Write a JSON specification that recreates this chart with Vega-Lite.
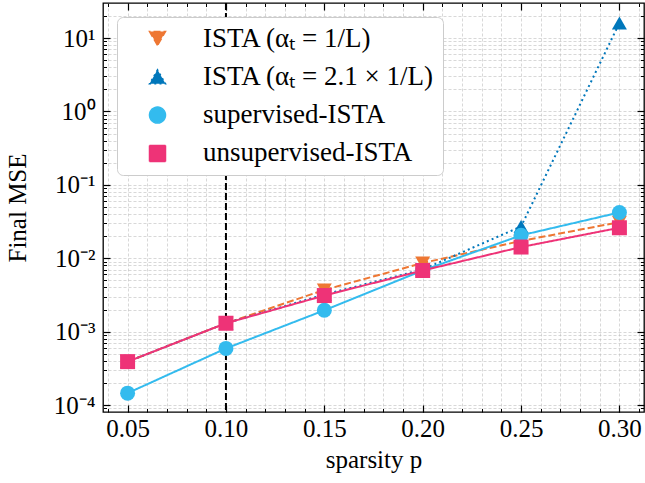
{
  "$schema": "https://vega.github.io/schema/vega-lite/v6.json",
  "width": 541,
  "height": 409,
  "autosize": {"type": "none"},
  "padding": {"left": 103, "top": 3, "right": 1, "bottom": 71},
  "background": "white",
  "config": {
    "view": {"stroke": "black", "strokeWidth": 1.3},
    "font": "Liberation Serif",
    "axis": {"labelFont": "Liberation Serif", "titleFont": "Liberation Serif", "labelColor": "black", "titleColor": "black", "tickColor": "black", "domain": false, "titleFontWeight": "normal"}
  },
  "data": {
    "values": [
      {"p": 0.05, "mse": 0.00039, "s": "a"},
      {"p": 0.10, "mse": 0.0013, "s": "a"},
      {"p": 0.15, "mse": 0.0037, "s": "a"},
      {"p": 0.20, "mse": 0.0086, "s": "a"},
      {"p": 0.25, "mse": 0.0172, "s": "a"},
      {"p": 0.30, "mse": 0.031, "s": "a"},
      {"p": 0.05, "mse": 0.00039, "s": "b"},
      {"p": 0.10, "mse": 0.0013, "s": "b"},
      {"p": 0.15, "mse": 0.0032, "s": "b"},
      {"p": 0.20, "mse": 0.0070, "s": "b"},
      {"p": 0.25, "mse": 0.027, "s": "b"},
      {"p": 0.30, "mse": 16.0, "s": "b"},
      {"p": 0.05, "mse": 0.000145, "s": "c"},
      {"p": 0.10, "mse": 0.00059, "s": "c"},
      {"p": 0.15, "mse": 0.00195, "s": "c"},
      {"p": 0.20, "mse": 0.0068, "s": "c"},
      {"p": 0.25, "mse": 0.0205, "s": "c"},
      {"p": 0.30, "mse": 0.042, "s": "c"},
      {"p": 0.05, "mse": 0.00039, "s": "d"},
      {"p": 0.10, "mse": 0.0013, "s": "d"},
      {"p": 0.15, "mse": 0.0031, "s": "d"},
      {"p": 0.20, "mse": 0.0068, "s": "d"},
      {"p": 0.25, "mse": 0.0142, "s": "d"},
      {"p": 0.30, "mse": 0.026, "s": "d"}
    ]
  },
  "layer": [
    {
      "mark": {"type": "point", "opacity": 0},
      "encoding": {
        "x": {"field": "p", "type": "quantitative", "scale": {"domain": [0.0375, 0.3125], "nice": false, "zero": false},
          "axis": {"orient": "bottom", "values": [0.04,0.05,0.06,0.07,0.08,0.09,0.10,0.11,0.12,0.13,0.14,0.15,0.16,0.17,0.18,0.19,0.20,0.21,0.22,0.23,0.24,0.25,0.26,0.27,0.28,0.29,0.30,0.31],
            "labels": false, "title": null, "tickSize": -3.5, "tickWidth": 1, "grid": true, "gridColor": "#bdbdbd", "gridDash": [3, 2], "gridWidth": 0.6}},
        "y": {"field": "mse", "type": "quantitative", "scale": {"type": "log", "domain": [0.0000803, 30], "nice": false},
          "axis": {"orient": "left", "values": [0.00009,0.0001,0.0002,0.0003,0.0004,0.0005,0.0006,0.0007,0.0008,0.0009,0.001,0.002,0.003,0.004,0.005,0.006,0.007,0.008,0.009,0.01,0.02,0.03,0.04,0.05,0.06,0.07,0.08,0.09,0.1,0.2,0.3,0.4,0.5,0.6,0.7,0.8,0.9,1,2,3,4,5,6,7,8,9,10,20],
            "labels": false, "title": null, "tickSize": -3.5, "tickWidth": 1, "grid": true, "gridColor": "#bdbdbd", "gridDash": [3, 2], "gridWidth": 0.6}}
      }
    },
    {
      "mark": {"type": "point", "opacity": 0},
      "encoding": {
        "x": {"field": "p", "type": "quantitative",
          "axis": {"orient": "top", "values": [0.04,0.05,0.06,0.07,0.08,0.09,0.10,0.11,0.12,0.13,0.14,0.15,0.16,0.17,0.18,0.19,0.20,0.21,0.22,0.23,0.24,0.25,0.26,0.27,0.28,0.29,0.30,0.31],
            "labels": false, "title": null, "tickSize": -3.5, "tickWidth": 1, "grid": false}},
        "y": {"field": "mse", "type": "quantitative",
          "axis": {"orient": "right", "values": [0.00009,0.0001,0.0002,0.0003,0.0004,0.0005,0.0006,0.0007,0.0008,0.0009,0.001,0.002,0.003,0.004,0.005,0.006,0.007,0.008,0.009,0.01,0.02,0.03,0.04,0.05,0.06,0.07,0.08,0.09,0.1,0.2,0.3,0.4,0.5,0.6,0.7,0.8,0.9,1,2,3,4,5,6,7,8,9,10,20],
            "labels": false, "title": null, "tickSize": -3.5, "tickWidth": 1, "grid": false}}
      }
    },
    {
      "mark": {"type": "point", "opacity": 0},
      "encoding": {
        "x": {"field": "p", "type": "quantitative",
          "axis": {"orient": "top", "values": [0.05,0.10,0.15,0.20,0.25,0.30], "labels": false, "title": null, "tickSize": -7, "tickWidth": 1.2, "grid": false}},
        "y": {"field": "mse", "type": "quantitative",
          "axis": {"orient": "right", "values": [0.0001,0.001,0.01,0.1,1,10], "labels": false, "title": null, "tickSize": -7, "tickWidth": 1.2, "grid": false}}
      }
    },
    {
      "mark": {"type": "point", "opacity": 0},
      "encoding": {
        "x": {"field": "p", "type": "quantitative",
          "axis": {"orient": "bottom", "values": [0.05,0.10,0.15,0.20,0.25,0.30], "format": ".2f", "labelFontSize": 25, "labelPadding": 11,
            "title": "sparsity p", "titleFontSize": 25, "titlePadding": 6, "tickSize": -7, "tickWidth": 1.2, "grid": false}},
        "y": {"field": "mse", "type": "quantitative",
          "axis": {"orient": "left", "values": [0.0001,0.001,0.01,0.1,1,10], "labelFontSize": 25, "labelPadding": 15,
            "labelExpr": "datum.value < 0.0005 ? '10⁻⁴' : datum.value < 0.005 ? '10⁻³' : datum.value < 0.05 ? '10⁻²' : datum.value < 0.5 ? '10⁻¹' : datum.value < 5 ? '10⁰' : '10¹'",
            "title": "Final MSE", "titleFontSize": 25, "titlePadding": 23, "tickSize": -7, "tickWidth": 1.2, "grid": false}}
      }
    },
    {
      "data": {"values": [{"p": 0.10}]},
      "mark": {"type": "rule", "color": "black", "strokeWidth": 2, "strokeDash": [7, 3]},
      "encoding": {"x": {"field": "p", "type": "quantitative", "axis": null}}
    },
    {
      "mark": {"type": "line", "strokeWidth": 2},
      "encoding": {
        "x": {"field": "p", "type": "quantitative", "axis": null},
        "y": {"field": "mse", "type": "quantitative", "axis": null},
        "color": {"field": "s", "type": "nominal", "scale": {"domain": ["a", "b", "c", "d"], "range": ["#EE7733", "#0077BB", "#33BBEE", "#EE3377"]}},
        "strokeDash": {"field": "s", "type": "nominal", "scale": {"domain": ["a", "b", "c", "d"], "range": [[7, 3], [2, 3.2], [1, 0], [1, 0]]}, "legend": null}
      }
    },
    {
      "mark": {"type": "point", "filled": true, "opacity": 1, "size": 225},
      "encoding": {
        "x": {"field": "p", "type": "quantitative", "axis": null},
        "y": {"field": "mse", "type": "quantitative", "axis": null},
        "color": {"field": "s", "type": "nominal",
          "legend": {
            "orient": "top-left", "offset": 14, "title": null, "padding": 8,
            "fillColor": "white", "strokeColor": "#cccccc", "cornerRadius": 6,
            "labelFont": "Liberation Serif", "labelFontSize": 27, "labelColor": "black", "labelLimit": 400,
            "symbolOffset": 19, "labelOffset": 32, "rowPadding": 10.3, "symbolSize": 256,
            "labelExpr": "datum.value === 'a' ? 'ISTA (αₜ = 1/L)' : datum.value === 'b' ? 'ISTA (αₜ = 2.1 × 1/L)' : datum.value === 'c' ? 'supervised-ISTA' : 'unsupervised-ISTA'",
            "encode": {
              "legend": {"update": {"strokeWidth": {"value": 2}}},
              "symbols": {"update": {
              "shape": {"signal": "datum.value === 'a' ? 'M-3.3,0L3.3,0M-1,-0.8L1,-0.8L0,0.95Z' : datum.value === 'b' ? 'M-3.3,0L3.3,0M-1,0.8L1,0.8L0,-0.95Z' : datum.value === 'c' ? 'M-3.3,0L3.3,0M-1,0C-1,-0.552,-0.552,-1,0,-1C0.552,-1,1,-0.552,1,0C1,0.552,0.552,1,0,1C-0.552,1,-1,0.552,-1,0Z' : 'M-3.3,0L3.3,0M-0.85,-0.85L0.85,-0.85L0.85,0.85L-0.85,0.85Z'"},
              "fill": {"signal": "datum.value === 'a' ? '#EE7733' : datum.value === 'b' ? '#0077BB' : datum.value === 'c' ? '#33BBEE' : '#EE3377'"},
              "stroke": {"signal": "datum.value === 'a' ? '#EE7733' : datum.value === 'b' ? '#0077BB' : datum.value === 'c' ? '#33BBEE' : '#EE3377'"},
              "strokeDash": {"signal": "datum.value === 'a' ? [7, 3] : datum.value === 'b' ? [2, 3.2] : [1, 0]"},
              "strokeWidth": {"value": 2},
              "strokeOpacity": {"value": 1},
              "fillOpacity": {"value": 1},
              "opacity": {"value": 1},
              "size": {"value": 256}
            }}}
          }},
        "shape": {"field": "s", "type": "nominal", "scale": {"domain": ["a", "b", "c", "d"], "range": ["triangle-down", "triangle-up", "circle", "square"]}, "legend": null}
      }
    }
  ],
  "resolve": {"axis": {"x": "independent", "y": "independent"}}
}
